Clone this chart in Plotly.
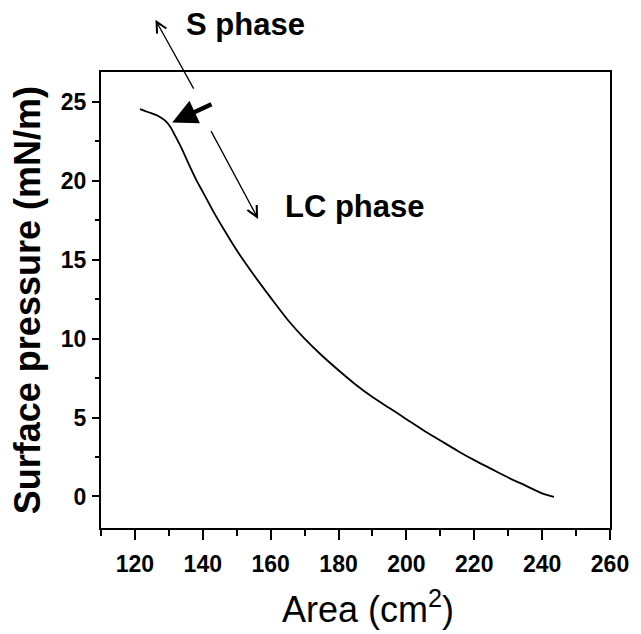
import plotly.graph_objects as go

# Data
area = [121.5, 124.0, 127.0, 129.0, 130.5, 132.0, 134.0, 136.0, 138.0, 140.0,
        143.0, 146.0, 150.0, 155.0, 160.0, 165.0, 170.0, 175.0, 180.0, 185.0,
        190.0, 195.0, 200.0, 205.0, 210.0, 215.0, 220.0, 225.0, 230.0, 235.0,
        240.0, 243.5]
pressure = [24.55, 24.35, 24.1, 23.8, 23.4, 22.8, 21.95, 21.0, 20.1, 19.3,
            18.1, 17.0, 15.6, 14.05, 12.6, 11.2, 10.0, 8.95, 8.0, 7.1,
            6.3, 5.6, 4.9, 4.2, 3.55, 2.9, 2.3, 1.75, 1.2, 0.7,
            0.2, -0.02]

x_ticks = [120, 140, 160, 180, 200, 220, 240, 260]
y_ticks = [0, 5, 10, 15, 20, 25]

FONT = "Arial, Liberation Sans, sans-serif"

fig = go.Figure()
fig.add_trace(go.Scatter(x=area, y=pressure, mode="lines",
                         line=dict(color="black", width=1.8, shape="spline", smoothing=0.8),
                         showlegend=False, hoverinfo="skip"))

axis_common = dict(showline=True, linecolor="black", linewidth=2, mirror=True,
                   showgrid=False, zeroline=False, ticks="outside",
                   tickcolor="black", tickwidth=2,
                   tickfont=dict(family=FONT, size=23, color="black", weight="bold"))

fig.update_xaxes(range=[110, 260], tickvals=x_ticks, ticklen=10,
                 ticklabelstandoff=4, ticklabeloverflow="allow",
                 minor=dict(dtick=10, tick0=110, ticks="outside", ticklen=6,
                            tickwidth=2, tickcolor="black"),
                 **axis_common)
fig.update_yaxes(range=[-2, 26.9], tickvals=y_ticks, ticklen=7,
                 ticklabelstandoff=1,
                 minor=dict(dtick=2.5, tick0=0, ticks="outside", ticklen=4,
                            tickwidth=2, tickcolor="black"),
                 **axis_common)

annotations = [
    # axis titles
    dict(text="Surface pressure (mN/m)", xref="paper", yref="paper",
         x=-0.145, y=0.5, xanchor="center", yanchor="middle", textangle=-90,
         showarrow=False,
         font=dict(family=FONT, size=36, color="black", weight="bold")),
    dict(text="Area (cm<sup>2</sup>)", xref="paper", yref="paper",
         x=0.5246, y=-0.1175, xanchor="center", yanchor="top",
         showarrow=False, font=dict(family=FONT, size=36, color="black")),
    # phase labels
    dict(text="S phase", xref="paper", yref="paper", x=0.2846, y=1.104,
         xanchor="center", yanchor="middle", showarrow=False,
         font=dict(family=FONT, size=31, color="black", weight="bold")),
    dict(text="LC phase", xref="x", yref="y", x=184.9, y=18.37,
         xanchor="center", yanchor="middle", showarrow=False,
         font=dict(family=FONT, size=31, color="black", weight="bold")),
    # thin arrow to S phase (head outside the plot)
    dict(text="", xref="x", yref="y", axref="x", ayref="y",
         x=137.3, y=25.85, ax=125.8, ay=30.3, showarrow=True,
         arrowside="start", startarrowhead=5, startarrowsize=1.6,
         arrowwidth=1.3, arrowcolor="black"),
    # thin arrow to LC phase
    dict(text="", xref="x", yref="y", axref="x", ayref="y",
         x=156.3, y=17.59, ax=142.2, ay=23.25, showarrow=True,
         arrowhead=5, arrowsize=1.6, arrowwidth=1.3, arrowcolor="black"),
    # thick arrow pointing at the transition
    dict(text="", xref="x", yref="y", axref="x", ayref="y",
         x=131.0, y=23.7, ax=143.0, ay=24.9, showarrow=True,
         arrowhead=2, arrowsize=1.1, arrowwidth=4.5, arrowcolor="black"),
]

fig.update_layout(width=641, height=634,
                  margin=dict(l=101, r=19, t=72, b=106),
                  plot_bgcolor="white", paper_bgcolor="white",
                  annotations=annotations)

# remove the default 8px page margin so the figure fills the window exactly
fig.write_html("out.html",
               config={"displayModeBar": False},
               post_script="document.body.style.margin='0';"
                           "document.body.style.overflow='hidden';")
